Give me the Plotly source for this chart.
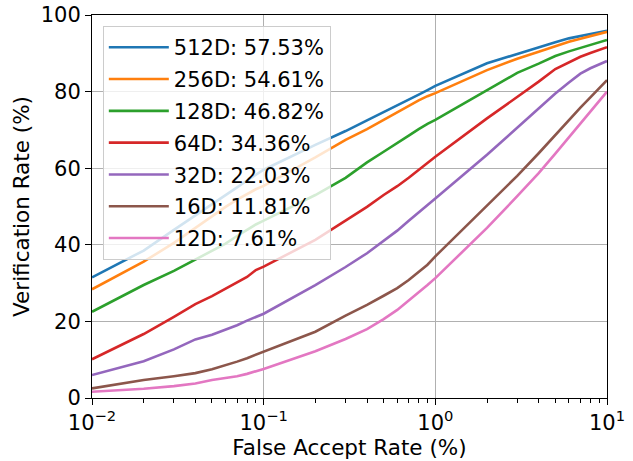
import plotly.graph_objects as go

far = [0.01, 0.02, 0.03, 0.04, 0.05, 0.06, 0.07, 0.08, 0.09, 0.1,
       0.2, 0.3, 0.4, 0.5, 0.6, 0.7, 0.8, 0.9, 1,
       2, 3, 4, 5, 6, 7, 8, 9, 10]

vr_512 = [31.5, 38.5, 43.9, 47.6, 50.7, 53.0, 55.0, 56.8, 58.3, 59.6,
          66.1, 69.7, 72.5, 74.6, 76.4, 77.9, 79.2, 80.4, 81.5,
          87.4, 89.9, 91.6, 92.9, 93.9, 94.5, 95.0, 95.5, 95.9]
vr_256 = [28.4, 35.6, 40.5, 44.4, 47.5, 49.9, 51.8, 53.3, 54.5, 55.4,
          62.8, 67.4, 70.2, 72.6, 74.6, 76.2, 77.7, 78.8, 79.6,
          85.6, 88.6, 90.4, 91.9, 93.0, 93.8, 94.5, 95.1, 95.6]
vr_128 = [22.5, 29.5, 33.2, 36.2, 38.4, 40.3, 42.3, 44.0, 45.3, 46.3,
          53.0, 57.5, 61.5, 64.3, 66.5, 68.5, 70.2, 71.6, 72.6,
          80.5, 84.9, 87.3, 89.3, 90.5, 91.4, 92.0, 92.8, 93.5]
vr_64 = [10.1, 16.7, 21.2, 24.5, 26.6, 28.6, 30.3, 31.6, 33.4, 34.3,
         41.3, 46.2, 49.9, 53.0, 55.3, 57.5, 59.5, 61.2, 63.0,
         73.0, 78.6, 82.6, 85.9, 87.7, 89.1, 90.1, 90.9, 91.6]
vr_32 = [6.0, 9.6, 12.7, 15.3, 16.5, 17.8, 19.0, 20.2, 21.2, 22.0,
         29.5, 34.2, 37.8, 41.0, 43.7, 46.3, 48.4, 50.3, 52.1,
         63.5, 70.6, 75.8, 79.5, 82.4, 84.7, 86.1, 87.1, 88.0]
vr_16 = [2.5, 4.7, 5.7, 6.5, 7.5, 8.5, 9.5, 10.4, 11.3, 12.0,
         17.3, 21.5, 24.3, 26.7, 28.7, 30.8, 32.9, 34.8, 37.0,
         50.1, 58.0, 63.9, 68.7, 72.5, 75.8, 78.5, 80.9, 83.0]
vr_12 = [1.65, 2.4, 3.1, 3.8, 4.7, 5.2, 5.7, 6.3, 6.9, 7.6,
         12.2, 15.4, 18.0, 20.6, 23.0, 25.4, 27.6, 29.5, 31.3,
         44.4, 52.7, 58.7, 63.8, 68.0, 71.7, 74.8, 77.5, 80.0]

series_names = ["512D: 57.53%", "256D: 54.61%", "128D: 46.82%", "64D: 34.36%",
                "32D: 22.03%", "16D: 11.81%", "12D: 7.61%"]
series_values = [vr_512, vr_256, vr_128, vr_64, vr_32, vr_16, vr_12]
colors = ["#1f77b4", "#ff7f0e", "#2ca02c", "#d62728", "#9467bd", "#8c564b", "#e377c2"]

x_tickvals = [0.01, 0.1, 1, 10]
x_ticktext = ["10<sup>−2</sup>", "10<sup>−1</sup>", "10<sup>0</sup>", "10<sup>1</sup>"]
y_tickvals = [0, 20, 40, 60, 80, 100]

fig = go.Figure()
for i, (name, vals, c) in enumerate(zip(series_names, series_values, colors)):
    fig.add_trace(go.Scatter(x=far, y=vals, mode="lines", name=name,
                             legendgroup=f"g{i}",
                             line=dict(color=c, width=2.6)))

font_family = "DejaVu Sans"
fig.update_layout(
    width=633, height=461,
    margin=dict(l=92, r=26, t=15, b=63, autoexpand=False),
    paper_bgcolor="white", plot_bgcolor="white",
    font=dict(family=font_family, size=21, color="black"),
    showlegend=True,
    legend=dict(x=0.021, y=0.971, xanchor="left", yanchor="top",
                bgcolor="rgba(255,255,255,0.8)", bordercolor="#cccccc", borderwidth=1,
                font=dict(size=21, family=font_family), tracegroupgap=1.5,
                itemwidth=60),
    xaxis=dict(type="log", range=[-2, 1], tickvals=x_tickvals, ticktext=x_ticktext,
               ticks="outside", ticklen=6, tickwidth=1, tickcolor="black",
               showline=True, linecolor="black", linewidth=1, mirror=True,
               showgrid=True, gridcolor="#b0b0b0", gridwidth=1, zeroline=False,
               automargin=False,
               title=dict(text="False Accept Rate (%)", font=dict(size=21.5), standoff=3),
               tickfont=dict(size=21),
               minor=dict(ticks="outside", ticklen=3.5, tickcolor="black", dtick="D1", showgrid=False)),
    yaxis=dict(range=[0, 100], tickvals=y_tickvals,
               ticks="outside", ticklen=6, tickwidth=1, tickcolor="black",
               showline=True, linecolor="black", linewidth=1, mirror=True,
               showgrid=True, gridcolor="#b0b0b0", gridwidth=1, zeroline=False,
               automargin=False,
               title=dict(text="Verification Rate (%)", font=dict(size=21.5), standoff=5),
               tickfont=dict(size=21)),
)

fig.write_html("out.html")
